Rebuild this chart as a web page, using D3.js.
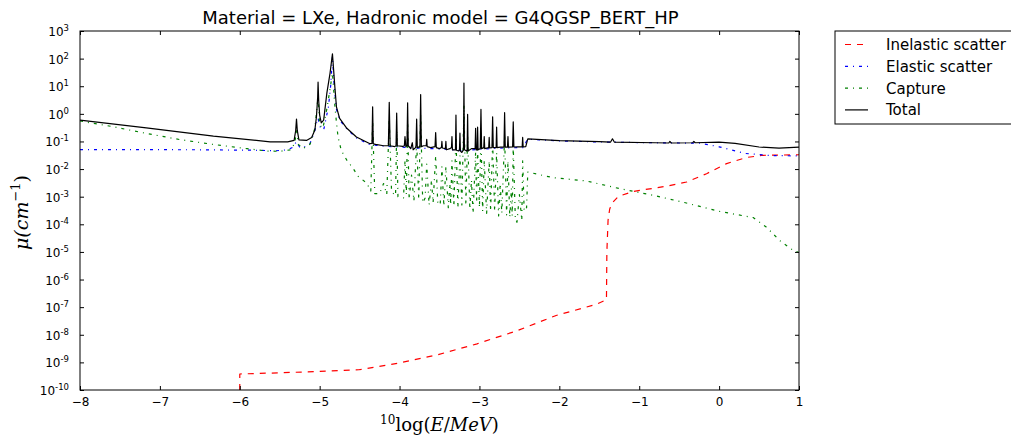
<!DOCTYPE html>
<html>
<head>
<meta charset="utf-8">
<script src="https://cdn.jsdelivr.net/npm/d3@7"></script>
<style>
  html, body { margin: 0; padding: 0; background: #fff; }
  svg { display: block; }
  text { font-family: "DejaVu Sans", sans-serif; fill: #000; }
</style>
</head>
<body>
<svg id="chart" width="1011" height="439"></svg>
<script>
// ---------------- data ----------------
const titleText = "Material = LXe, Hadronic model = G4QGSP_BERT_HP";
const xTicks = [-8, -7, -6, -5, -4, -3, -2, -1, 0, 1];
const yTickExps = [-10, -9, -8, -7, -6, -5, -4, -3, -2, -1, 0, 1, 2, 3];
const seriesNames = ["Inelastic scatter", "Elastic scatter", "Capture", "Total"];

// [log10(E/MeV), mu (cm^-1)]
const inelasticData = [
  [-6.0, 1e-10], [-6.0, 3.8e-10], [-5.5, 4.2e-10], [-5.01, 4.7e-10], [-4.51, 5.4e-10],
  [-4.02, 9.3e-10], [-3.52, 1.9e-9], [-3.03, 4.7e-9], [-2.53, 1.4e-8], [-2.04, 5.0e-8],
  [-1.54, 1.26e-7], [-1.41, 1.86e-7], [-1.405, 1.0e-5], [-1.39, 1.4e-4], [-1.37, 3.5e-4],
  [-1.345, 5.6e-4], [-1.263, 1.02e-3], [-1.075, 1.55e-3], [-0.657, 2.4e-3], [-0.407, 3.4e-3],
  [-0.157, 6.8e-3], [0.094, 1.58e-2], [0.344, 2.63e-2], [0.552, 3.16e-2], [1.0, 3.3e-2]
];

const elasticData = [
  [-8.0, 0.051], [-6.5, 0.050], [-5.8, 0.048], [-5.55, 0.046], [-5.40, 0.050], [-5.33, 0.063],
  [-5.29, 0.10], [-5.25, 0.062], [-5.21, 0.058], [-5.12, 0.085], [-5.06, 0.25], [-5.03, 0.6],
  [-5.02, 0.7], [-5.00, 0.35], [-4.95, 0.26], [-4.89, 1.8], [-4.86, 12], [-4.84, 120],
  [-4.82, 12], [-4.79, 1.5], [-4.75, 0.6], [-4.66, 0.28], [-4.54, 0.135], [-4.37, 0.076],
  [-4.2, 0.068], [-4.0, 0.063], [-3.8, 0.058], [-3.5, 0.054], [-3.2, 0.046], [-3.0, 0.052],
  [-2.7, 0.058], [-2.45, 0.060], [-2.40, 0.12], [-2.0, 0.105], [-1.5, 0.096], [-1.0, 0.091],
  [-0.5, 0.088], [-0.24, 0.087], [0.0, 0.064], [0.32, 0.037], [0.64, 0.031], [1.0, 0.030]
];

const captureData = [
  [-8.0, 0.55], [-7.58, 0.34], [-7.17, 0.195], [-6.75, 0.117], [-6.33, 0.078], [-5.91, 0.055],
  [-5.66, 0.045], [-5.50, 0.044], [-5.36, 0.05], [-5.31, 0.09], [-5.29, 0.3], [-5.27, 0.08],
  [-5.21, 0.055], [-5.12, 0.08], [-5.06, 0.3], [-5.02, 4], [-5.00, 0.4], [-4.96, 0.3],
  [-4.91, 1.5], [-4.87, 8], [-4.84, 30], [-4.81, 2], [-4.79, 0.5], [-4.77, 0.145],
  [-4.73, 0.048], [-4.66, 0.021], [-4.58, 0.0105], [-4.52, 0.0055], [-4.41, 0.0031],
  [-4.36, 0.0016], [-4.337, 0.5], [-4.31, 0.0013], [-4.25, 0.0013], [-4.20, 0.003],
  [-4.16, 0.0012], [-4.129, 0.6], [-4.10, 0.0015], [-4.05, 0.0011], [-4.036, 0.25],
  [-4.02, 0.001], [-3.95, 0.0009], [-3.932, 0.02], [-3.915, 0.0012], [-3.899, 0.5],
  [-3.88, 0.0008], [-3.85, 0.006], [-3.82, 0.0007], [-3.786, 0.1], [-3.76, 0.0008],
  [-3.736, 1.0], [-3.71, 0.0006], [-3.68, 0.0009], [-3.66, 0.015], [-3.63, 0.0005],
  [-3.60, 0.004], [-3.58, 0.0006], [-3.548, 0.03], [-3.52, 0.0005], [-3.49, 0.0006],
  [-3.47, 0.012], [-3.445, 0.00045], [-3.42, 0.012], [-3.39, 0.0004], [-3.37, 0.003],
  [-3.36, 0.0005], [-3.344, 0.02], [-3.32, 0.00045], [-3.294, 0.15], [-3.27, 0.0004],
  [-3.244, 0.03], [-3.22, 0.0005], [-3.194, 2], [-3.17, 0.0005], [-3.148, 0.15],
  [-3.12, 0.00035], [-3.10, 0.004], [-3.08, 0.00025], [-3.048, 0.04], [-3.035, 0.0006],
  [-3.023, 0.05], [-3.00, 0.0004], [-2.981, 0.2], [-2.96, 0.0003], [-2.94, 0.02],
  [-2.91, 0.00025], [-2.878, 0.02], [-2.86, 0.0003], [-2.835, 0.1], [-2.81, 0.0003],
  [-2.785, 0.04], [-2.76, 0.0002], [-2.74, 0.003], [-2.72, 0.00025], [-2.685, 0.15],
  [-2.66, 0.00022], [-2.643, 0.02], [-2.62, 0.00018], [-2.60, 0.002], [-2.59, 0.0002],
  [-2.577, 0.07], [-2.55, 0.00013], [-2.53, 0.00012], [-2.50, 0.0012], [-2.47, 0.00014],
  [-2.459, 0.02], [-2.44, 0.0003], [-2.41, 0.0004], [-2.395, 0.0078], [-2.08, 0.0049],
  [-1.66, 0.0037], [-1.24, 0.00195], [-0.82, 0.00112], [-0.41, 0.00059], [-0.01, 0.0003],
  [0.43, 0.000174], [0.59, 0.0000794], [0.76, 0.0000257], [0.93, 0.0000112], [1.0, 0.0000095]
];

const totalData = [
  [-8.00, 0.59], [-7.17, 0.31], [-6.33, 0.155], [-5.62, 0.097], [-5.40, 0.097], [-5.32, 0.11],
  [-5.30, 0.25], [-5.29, 0.65], [-5.28, 0.25], [-5.26, 0.115], [-5.16, 0.11], [-5.10, 0.14],
  [-5.06, 0.26], [-5.04, 0.8], [-5.025, 4], [-5.02, 14], [-5.012, 3], [-5.00, 0.9],
  [-4.98, 0.47], [-4.95, 0.59], [-4.91, 5.6], [-4.87, 30], [-4.84, 150], [-4.81, 9.5],
  [-4.79, 1.8], [-4.75, 0.68], [-4.66, 0.3], [-4.54, 0.145], [-4.37, 0.083], [-4.345, 0.085],
  [-4.337, 1.8], [-4.329, 0.082], [-4.30, 0.078], [-4.20, 0.07], [-4.14, 0.07], [-4.129, 2.6],
  [-4.118, 0.07], [-4.06, 0.065], [-4.044, 0.07], [-4.036, 1.07], [-4.028, 0.07], [-3.96, 0.066],
  [-3.94, 0.07], [-3.932, 0.15], [-3.921, 0.065], [-3.907, 0.07], [-3.899, 2.5], [-3.891, 0.07],
  [-3.86, 0.055], [-3.84, 0.09], [-3.83, 0.05], [-3.80, 0.06], [-3.794, 0.07], [-3.786, 0.65],
  [-3.778, 0.06], [-3.745, 0.065], [-3.736, 5.0], [-3.727, 0.065], [-3.70, 0.07], [-3.666, 0.07],
  [-3.66, 0.12], [-3.654, 0.065], [-3.61, 0.06], [-3.556, 0.065], [-3.548, 0.21], [-3.540, 0.06],
  [-3.50, 0.055], [-3.476, 0.06], [-3.47, 0.1], [-3.464, 0.058], [-3.426, 0.055], [-3.42, 0.1],
  [-3.414, 0.05], [-3.37, 0.055], [-3.35, 0.06], [-3.344, 0.15], [-3.338, 0.05], [-3.30, 0.05],
  [-3.294, 0.9], [-3.288, 0.048], [-3.26, 0.045], [-3.25, 0.05], [-3.244, 0.2], [-3.238, 0.045],
  [-3.22, 0.04], [-3.20, 0.05], [-3.194, 13], [-3.188, 0.05], [-3.16, 0.045], [-3.154, 0.05],
  [-3.148, 0.95], [-3.142, 0.045], [-3.10, 0.055], [-3.054, 0.055], [-3.048, 0.3], [-3.042, 0.05],
  [-3.029, 0.05], [-3.023, 0.33], [-3.017, 0.05], [-2.99, 0.055], [-2.981, 1.45], [-2.973, 0.055],
  [-2.946, 0.06], [-2.94, 0.15], [-2.934, 0.055], [-2.884, 0.06], [-2.878, 0.14], [-2.872, 0.058],
  [-2.843, 0.06], [-2.835, 0.78], [-2.827, 0.06], [-2.791, 0.06], [-2.785, 0.33], [-2.779, 0.06],
  [-2.74, 0.062], [-2.693, 0.062], [-2.685, 1.1], [-2.677, 0.062], [-2.649, 0.062], [-2.643, 0.15],
  [-2.637, 0.062], [-2.585, 0.063], [-2.577, 0.51], [-2.569, 0.063], [-2.52, 0.064], [-2.465, 0.064],
  [-2.459, 0.14], [-2.453, 0.064], [-2.42, 0.065], [-2.40, 0.11], [-2.393, 0.125], [-2.0, 0.107],
  [-1.5, 0.098], [-1.36, 0.094], [-1.335, 0.125], [-1.31, 0.094], [-0.8, 0.090], [-0.63, 0.088],
  [-0.616, 0.10], [-0.60, 0.088], [-0.33, 0.090], [-0.316, 0.10], [-0.30, 0.090], [0.0, 0.094],
  [0.2, 0.085], [0.5, 0.063], [0.75, 0.057], [1.0, 0.062]
];

// ---------------- drawing ----------------
const svg = d3.select("#chart");
const W = 1011, H = 439;
const plot = { left: 80, right: 799, top: 31, bottom: 390 };

const x = d3.scaleLinear().domain([-8, 1]).range([plot.left, plot.right]);
const y = d3.scaleLog().domain([1e-10, 1e3]).range([plot.bottom, plot.top]);

svg.append("defs").append("clipPath").attr("id", "clip")
  .append("rect")
  .attr("x", plot.left).attr("y", plot.top)
  .attr("width", plot.right - plot.left).attr("height", plot.bottom - plot.top);

const line = d3.line().x(d => x(d[0])).y(d => y(Math.max(d[1], 1e-12)));

const series = [
  { name: seriesNames[0], data: inelasticData, color: "#ff0000", dash: "6,6", width: 1.2 },
  { name: seriesNames[1], data: elasticData, color: "#0000ff", dash: "3,5,1,5", width: 1.2 },
  { name: seriesNames[2], data: captureData, color: "#008000", dash: "3,5,1,5", width: 1.2 },
  { name: seriesNames[3], data: totalData, color: "#000000", dash: null, width: 1.2 }
];

const gLines = svg.append("g").attr("clip-path", "url(#clip)");
series.forEach(s => {
  gLines.append("path")
    .datum(s.data)
    .attr("d", line)
    .attr("fill", "none")
    .attr("stroke", s.color)
    .attr("stroke-width", s.width)
    .attr("stroke-dasharray", s.dash)
    .attr("stroke-linejoin", "round");
});

// frame
svg.append("rect")
  .attr("x", plot.left).attr("y", plot.top)
  .attr("width", plot.right - plot.left).attr("height", plot.bottom - plot.top)
  .attr("fill", "none").attr("stroke", "#000").attr("stroke-width", 1);

// axes
const fmtX = d => (d < 0 ? "\u2212" + Math.abs(d) : String(d));
const xAxis = d3.axisBottom(x).tickValues(xTicks).tickSizeInner(-4).tickSizeOuter(0).tickPadding(7).tickFormat(fmtX);
const gx = svg.append("g").attr("transform", `translate(0,${plot.bottom})`).call(xAxis);
gx.select(".domain").remove();
gx.selectAll("text").attr("font-size", 12).attr("font-family", "DejaVu Sans, sans-serif").attr("fill", "#000");

const xAxisTop = d3.axisTop(x).tickValues(xTicks).tickSizeInner(-4).tickSizeOuter(0).tickFormat("");
const gxt = svg.append("g").attr("transform", `translate(0,${plot.top})`).call(xAxisTop);
gxt.select(".domain").remove();

const yVals = yTickExps.map(e => Math.pow(10, e));
const yAxis = d3.axisLeft(y).tickValues(yVals).tickSizeInner(-4).tickSizeOuter(0).tickPadding(12).tickFormat("");
const gy = svg.append("g").attr("transform", `translate(${plot.left},0)`).call(yAxis);
gy.select(".domain").remove();
gy.selectAll(".tick").each(function(d) {
  const e = Math.round(Math.log10(d));
  const t = d3.select(this).select("text");
  t.attr("x", -11).attr("dy", null).attr("y", 4.5)
   .attr("font-size", 12).attr("text-anchor", "end").attr("fill", "#000");
  t.append("tspan").text("10");
  t.append("tspan").attr("dy", -5).attr("font-size", 8.5).text(e < 0 ? "-" + Math.abs(e) : String(e));
});

const yAxisRight = d3.axisRight(y).tickValues(yVals).tickSizeInner(-4).tickSizeOuter(0).tickFormat("");
const gyr = svg.append("g").attr("transform", `translate(${plot.right},0)`).call(yAxisRight);
gyr.select(".domain").remove();

svg.selectAll(".tick line").attr("stroke", "#000").attr("stroke-width", 1);

// title
svg.append("text")
  .attr("x", (plot.left + plot.right) / 2 + 1).attr("y", 24)
  .attr("text-anchor", "middle").attr("font-size", 18)
  .text(titleText);

// x label: 10log(E/MeV)
const xl = svg.append("text")
  .attr("x", (plot.left + plot.right) / 2).attr("y", 431)
  .attr("text-anchor", "middle")
  .style("font-family", "'DejaVu Serif', serif").attr("font-size", 18);
xl.append("tspan").attr("font-size", 12).attr("dy", -7).text("10");
xl.append("tspan").attr("dy", 7).text("log(");
xl.append("tspan").attr("font-style", "italic").text("E");
xl.append("tspan").text("/");
xl.append("tspan").attr("font-style", "italic").text("MeV");
xl.append("tspan").text(")");

// y label: mu(cm^-1)
const yl = svg.append("text")
  .attr("transform", `translate(28,${(plot.top + plot.bottom) / 2 + 2}) rotate(-90)`)
  .attr("text-anchor", "middle")
  .style("font-family", "'DejaVu Serif', serif").attr("font-size", 19);
yl.append("tspan").attr("font-style", "italic").text("\u03bc(");
yl.append("tspan").attr("font-style", "italic").text("cm");
yl.append("tspan").attr("font-size", 13).attr("dy", -8).text("\u22121");
yl.append("tspan").attr("dy", 8).text(")");

// legend
const lg = svg.append("g");
lg.append("rect").attr("x", 835).attr("y", 31).attr("width", 200).attr("height", 93)
  .attr("fill", "#fff").attr("stroke", "#000").attr("stroke-width", 1);
series.forEach((s, i) => {
  const yy = 44.5 + i * 21.8;
  lg.append("line").attr("x1", 845).attr("x2", 868).attr("y1", yy).attr("y2", yy)
    .attr("stroke", s.color).attr("stroke-width", s.width).attr("stroke-dasharray", s.dash);
  lg.append("text").attr("x", 886).attr("y", yy + 5.5).attr("font-size", 15).text(s.name);
});
</script>
</body>
</html>
